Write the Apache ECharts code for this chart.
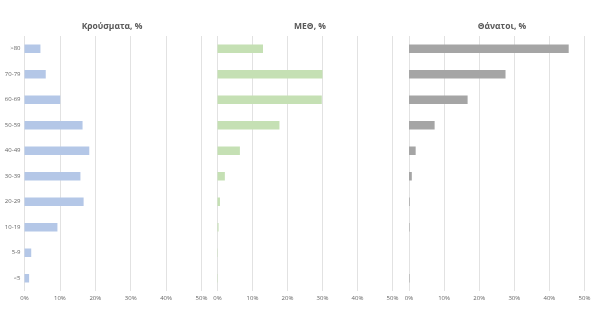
<!DOCTYPE html>
<html>
<head>
<meta charset="utf-8">
<script src="https://cdn.jsdelivr.net/npm/echarts@6/dist/echarts.min.js"></script>
<style>html,body{margin:0;padding:0;background:#fff}#c{width:600px;height:309px}</style>
</head>
<body>
<div id="c"></div>
<script>
const categories = ['>80', '70-79', '60-69', '50-59', '40-49', '30-39', '20-29', '10-19', '5-9', '<5'];
const cases = [4.5, 6.0, 10.1, 16.4, 18.3, 15.8, 16.7, 9.3, 1.9, 1.3];
const icu = [13.0, 30.0, 29.8, 17.7, 6.4, 2.1, 0.7, 0.3, 0.1, 0.1];
const deaths = [45.5, 27.5, 16.7, 7.3, 1.9, 0.8, 0.2, 0.15, 0.0, 0.15];
const titles = ['Κρούσματα, %', 'ΜΕΘ, %', 'Θάνατοι, %'];
const colors = ['#b4c7e7', '#c5e0b4', '#a5a5a5'];
const seriesData = [cases, icu, deaths];

const FONT = 'Open Sans';
const grids = [
  {left: 24.5, top: 36, width: 177, height: 255},
  {left: 217.5, top: 36, width: 175, height: 255},
  {left: 409, top: 36, width: 175.5, height: 255}
];
const titleCenters = [107, 305, 497];

const chart = echarts.init(document.getElementById('c'), null, {renderer: 'canvas'});
chart.setOption({
  animation: false,
  backgroundColor: '#ffffff',
  title: titles.map((t, i) => ({
    text: t,
    left: titleCenters[i],
    top: 17,
    textAlign: 'center',
    textStyle: {fontFamily: FONT, fontSize: 8.5, fontWeight: 'bold', color: '#595959'}
  })),
  grid: grids,
  xAxis: grids.map((g, i) => ({
    type: 'value',
    gridIndex: i,
    min: 0, max: 50, interval: 10,
    axisLine: {show: false},
    axisTick: {show: false},
    splitLine: {show: true, lineStyle: {color: '#e2e2e2', width: 1}},
    axisLabel: {formatter: '{value}%', fontFamily: FONT, fontSize: 6, color: '#666666', margin: 4}
  })),
  yAxis: grids.map((g, i) => ({
    type: 'category',
    gridIndex: i,
    data: categories,
    inverse: true,
    axisLine: {show: false},
    axisTick: {show: false},
    splitLine: {show: false},
    axisLabel: {show: i === 0, fontFamily: FONT, fontSize: 6, color: '#666666', margin: 4}
  })),
  series: seriesData.map((d, i) => ({
    type: 'bar',
    xAxisIndex: i,
    yAxisIndex: i,
    data: d,
    barWidth: 8.5,
    itemStyle: {color: colors[i]}
  }))
});
</script>
</body>
</html>
